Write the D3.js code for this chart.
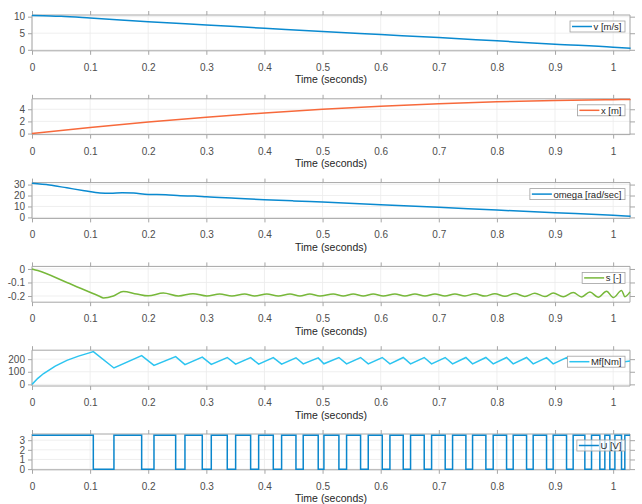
<!DOCTYPE html>
<html><head><meta charset="utf-8">
<script src="https://cdn.jsdelivr.net/npm/d3@7"></script>
<style>body{margin:0;background:#fff}svg{display:block}text{font-family:"Liberation Sans",Arial,sans-serif}</style>
</head><body>
<svg id="c" width="642" height="504"></svg>
<script>
// ---- data ----
const xTicks = [0,0.1,0.2,0.3,0.4,0.5,0.6,0.7,0.8,0.9,1];
const xTickLabels = ["0","0.1","0.2","0.3","0.4","0.5","0.6","0.7","0.8","0.9","1"];
const xLabel = "Time (seconds)";

const vT = [0,0.02,0.05,0.1,0.2,0.3,0.4,0.5,0.6,0.7,0.8,0.9,1.0,1.03];
const vV = [10.35,10.3,10.1,9.6,8.5,7.5,6.5,5.5,4.6,3.7,2.7,1.7,0.8,0.45];

const posT = [0,0.1,0.2,0.3,0.4,0.5,0.6,0.7,0.8,0.9,1.0,1.03];
const posV = [0,1.0,1.9,2.7,3.4,4.0,4.5,4.92,5.24,5.46,5.58,5.6];

const wT = [0,0.03,0.06,0.09,0.117,0.135,0.155,0.175,0.2,0.23,0.255,0.28,0.3,0.35,0.4,0.45,0.5,0.6,0.7,0.8,0.9,1.0,1.03];
const wV = [31.2,29.6,27.0,24.4,22.2,22.0,22.5,22.2,21.0,20.8,19.8,19.5,18.8,17.5,16.2,15.1,14.1,11.6,9.2,6.7,4.3,1.9,1.0];

const sT = [0,0.01,0.06,0.115,0.123,0.14,0.157,0.18,0.2,0.226,0.252,0.277,0.301,0.323,0.344,0.366,0.383,0.404,0.424,0.444,0.461,0.478,0.4954,0.5184,0.5356,0.5528,0.57,0.5872,0.6044,0.6245,0.6417,0.6589,0.6762,0.6934,0.7105,0.7277,0.745,0.7621,0.7793,0.7965,0.8138,0.831,0.8481,0.8653,0.8826,0.8969,0.9141,0.9313,0.9457,0.96,0.9743,0.9887,1.0002,1.0145,1.0203,1.029];
const sV = [0,-0.012,-0.1,-0.2,-0.214,-0.2,-0.167,-0.185,-0.199,-0.178,-0.2,-0.183,-0.2,-0.185,-0.2,-0.186,-0.2,-0.186,-0.2,-0.186,-0.2,-0.186,-0.2,-0.185,-0.2,-0.185,-0.2,-0.185,-0.2,-0.185,-0.2,-0.185,-0.2,-0.185,-0.2,-0.185,-0.2,-0.184,-0.201,-0.183,-0.202,-0.182,-0.203,-0.18,-0.204,-0.178,-0.206,-0.175,-0.207,-0.17,-0.21,-0.165,-0.212,-0.16,-0.205,-0.17];

const mfT = [0,0.01,0.02,0.04,0.06,0.08,0.1,0.1055,0.141,0.1887,0.2099,0.2472,0.2632,0.293,0.3085,0.336,0.3504,0.3762,0.39,0.4152,0.4295,0.4542,0.4667,0.4925,0.5023,0.5281,0.5413,0.5654,0.5786,0.6027,0.6159,0.6388,0.6514,0.6749,0.6876,0.711,0.7237,0.7466,0.7581,0.781,0.7936,0.8166,0.828,0.851,0.8624,0.8854,0.8968,0.9198,0.9312,0.9513,0.9628,0.9771,0.9857,0.9943,1.003,1.0144,1.0201,1.029];
const mfV = [0,48,86,145,190,224,252,260,130,228,150,220,157,216,158,213,160,212,160,212,160,211,162,210,163,213,163,213,163,213,163,213,163,213,163,213,163,213,163,213,163,213,163,213,163,212,163,212,165,205,170,200,175,195,178,195,180,186];

const uT = [0,0.1055,0.141,0.1887,0.2099,0.2472,0.2632,0.293,0.3085,0.336,0.3504,0.3762,0.39,0.4152,0.4295,0.4542,0.4667,0.4925,0.5023,0.5281,0.5413,0.5654,0.5786,0.6027,0.6159,0.6388,0.6514,0.6749,0.6876,0.711,0.7237,0.7466,0.7581,0.781,0.7936,0.8166,0.828,0.851,0.8624,0.8854,0.8968,0.9198,0.9312,0.9513,0.9628,0.9771,0.9857,0.9943,1.003,1.0144,1.0201,1.029];
const uV = [3.5,0,3.5,0,3.5,0,3.5,0,3.5,0,3.5,0,3.5,0,3.5,0,3.5,0,3.5,0,3.5,0,3.5,0,3.5,0,3.5,0,3.5,0,3.5,0,3.5,0,3.5,0,3.5,0,3.5,0,3.5,0,3.5,0,3.5,0,3.5,0,3.5,0,3.5,3.5];

const panels = [
  {t:vT, y:vV, name:"v [m/s]", color:"#0a8ad0", dom:[-0.3,10.5], ticks:[0,5,10], labels:["0","5","10"], curve:d3.curveMonotoneX},
  {t:posT, y:posV, name:"x [m]", color:"#f7693b", dom:[-0.17,5.72], ticks:[0,2,4], labels:["0","2","4"], curve:d3.curveMonotoneX},
  {t:wT, y:wV, name:"omega [rad/sec]", color:"#0a8ad0", dom:[-0.9,31.8], ticks:[0,10,20,30], labels:["0","10","20","30"], curve:d3.curveMonotoneX},
  {t:sT, y:sV, name:"s [-]", color:"#77b83a", dom:[-0.246,0.019], ticks:[-0.2,-0.1,0], labels:["-0.2","-0.1","0"], curve:d3.curveMonotoneX},
  {t:mfT, y:mfV, name:"Mf[Nm]", color:"#2cc4f0", dom:[-13,271], ticks:[0,100,200], labels:["0","100","200"], curve:d3.curveLinear},
  {t:uT, y:uV, name:"U [V]", color:"#0a86cc", dom:[-0.07,3.64], ticks:[0,1,2,3], labels:["0","1","2","3"], curve:d3.curveStepAfter}
];

// ---- drawing ----
const svg = d3.select("#c");
const L = 32, R = 630, PH = 35.8;
const x = d3.scaleLinear().domain([0,1.029]).range([L,R]);
const axisCol = "#a6a6a6", gridCol = "#ebebeb", txtCol = "#4d4d4d";

panels.forEach((p,i)=>{
  const top = 15 + i*83.8, bot = top + PH;
  const y = d3.scaleLinear().domain(p.dom).range([bot,top]);
  const g = svg.append("g");
  // grid
  g.append("g").selectAll("line").data(xTicks).join("line")
    .attr("x1",d=>x(d)).attr("x2",d=>x(d)).attr("y1",top).attr("y2",bot)
    .attr("stroke",gridCol).attr("stroke-width",0.8);
  g.append("g").selectAll("line").data(p.ticks).join("line")
    .attr("x1",L).attr("x2",R).attr("y1",d=>y(d)).attr("y2",d=>y(d))
    .attr("stroke",gridCol).attr("stroke-width",0.8);
  // axes
  const bx = d3.axisBottom(x).tickValues(xTicks).tickFormat((d,k)=>xTickLabels[k]).tickSize(4).tickPadding(9);
  const ax = g.append("g").attr("transform",`translate(0,${bot})`).call(bx);
  const tx = d3.axisTop(x).tickValues(xTicks).tickFormat("").tickSize(4);
  const at = g.append("g").attr("transform",`translate(0,${top})`).call(tx);
  const ly = d3.axisLeft(y).tickValues(p.ticks).tickFormat((d,k)=>p.labels[k]).tickSize(4).tickPadding(3);
  const al = g.append("g").attr("transform",`translate(${L},0)`).call(ly);
  const ry = d3.axisRight(y).tickValues(p.ticks).tickFormat("").tickSize(5);
  const ar = g.append("g").attr("transform",`translate(${R},0)`).call(ry);
  [ax,at,al,ar].forEach(a=>{
    a.select(".domain").attr("stroke",axisCol).attr("stroke-width",1);
    a.selectAll(".tick line").attr("stroke",axisCol);
    a.selectAll("text").attr("fill",txtCol).attr("font-size",10).attr("font-family","Liberation Sans, Arial, sans-serif");
  });
  al.select(".domain").attr("d",`M0,${top}V${bot}`);
  ar.select(".domain").attr("d",`M0,${top}V${bot}`);
  ax.select(".domain").attr("d",`M${L},0H${R}`);
  at.select(".domain").attr("d",`M${L},0H${R}`);
  // x label
  g.append("text").attr("x",(L+R)/2).attr("y",bot+32.5).attr("text-anchor","middle")
    .attr("font-size",10.5).attr("fill","#262626").text(xLabel);
  // line
  const data = p.t.map((t,k)=>[t,p.y[k]]);
  const line = d3.line().x(d=>x(d[0])).y(d=>y(d[1])).curve(p.curve);
  g.append("path").attr("d",line(data)).attr("fill","none").attr("stroke",p.color).attr("stroke-width",1.5);
  // legend
  const lg = g.append("g");
  const rect = lg.append("rect");
  const lt = lg.append("text").attr("font-size",9.5).attr("fill","#262626").text(p.name);
  const tw = lt.node().getComputedTextLength();
  const lx1 = 625, lx0 = lx1 - tw - 27, ly0 = top + 6, lh = 11;
  rect.attr("x",lx0).attr("y",ly0).attr("width",lx1-lx0).attr("height",lh)
    .attr("fill","#fff").attr("fill-opacity", i===5?0.7:1).attr("stroke","#a0a0a0").attr("stroke-width",0.8);
  lg.append("line").attr("x1",lx0+2).attr("x2",lx0+22).attr("y1",ly0+lh/2).attr("y2",ly0+lh/2)
    .attr("stroke",p.color).attr("stroke-width",1.5);
  lt.attr("x",lx0+23.5).attr("y",ly0+lh/2+3.4);
});
</script>
</body></html>
